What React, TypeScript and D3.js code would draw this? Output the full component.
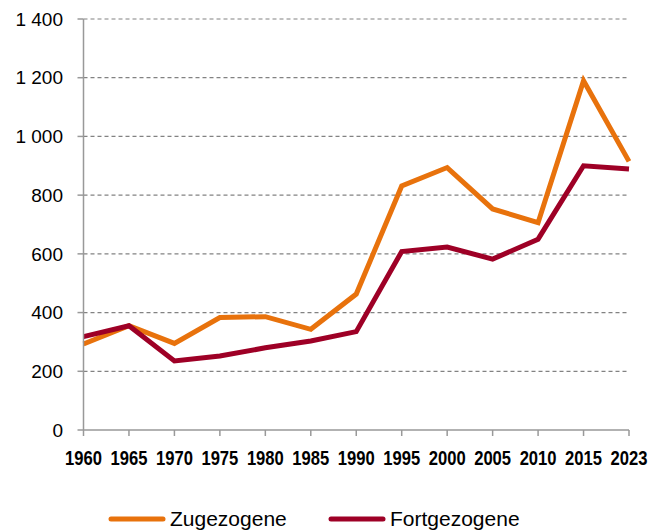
import React from "react";
import * as d3 from "d3";

const years = ["1960","1965","1970","1975","1980","1985","1990","1995","2000","2005","2010","2015","2023"];
const zugezogene = [293, 355, 295, 383, 386, 343, 463, 831, 894, 753, 706, 1190, 915];
const fortgezogene = [318, 355, 235, 252, 280, 303, 335, 608, 623, 582, 650, 900, 889];
const yTicks = [0, 200, 400, 600, 800, 1000, 1200, 1400];
const seriesNames = ["Zugezogene", "Fortgezogene"];
const colors = ["#E8720C", "#9E0026"];

const W = 665, H = 530;
const left = 83.5, right = 629, top = 19, bottom = 430;

export default function App() {
  const x = d3.scalePoint<string>().domain(years).range([left, right]);
  const y = d3.scaleLinear().domain([0, 1400]).range([bottom, top]);
  const line = d3.line<number>().x((_, i) => x(years[i])!).y((d) => y(d));
  const fmt = (v: number) => d3.format(",")(v).replace(",", " ");
  const series = [zugezogene, fortgezogene];
  const legendX = [111, 331];
  const sx = 0.81;
  return (
    <svg width={W} height={H} style={{ position: "absolute", left: 0, top: 0 }}>
      <rect width={W} height={H} fill="#fff" />
      {yTicks.filter((t) => t > 0).map((t) => (
        <line key={t} x1={left} x2={right} y1={y(t)} y2={y(t)} stroke="#828282" strokeWidth={1.2} strokeDasharray="4 3" />
      ))}
      {series.map((s, i) => (
        <path key={i} d={line(s)!} fill="none" stroke={colors[i]} strokeWidth={5} strokeLinejoin="miter" strokeLinecap="butt" />
      ))}
      <line x1={left} x2={left} y1={top} y2={bottom} stroke="#999" strokeWidth={1.5} />
      <line x1={left} x2={right} y1={bottom} y2={bottom} stroke="#999" strokeWidth={1.5} />
      {yTicks.map((t) => (
        <g key={t}>
          <line x1={left - 6} x2={left} y1={y(t)} y2={y(t)} stroke="#999" strokeWidth={1.5} />
          <text x={63} y={y(t)} dy="0.35em" textAnchor="end" fontFamily="Liberation Sans, Arial, sans-serif" fontSize={19} fill="#000">{fmt(t)}</text>
        </g>
      ))}
      {years.map((yr) => (
        <g key={yr}>
          <line x1={x(yr)} x2={x(yr)} y1={bottom} y2={bottom + 6} stroke="#999" strokeWidth={1.5} />
          <text transform={`translate(${x(yr)},464.5) scale(${sx},1)`} textAnchor="middle" fontFamily="Liberation Sans, Arial, sans-serif" fontWeight="bold" fontSize={20.5} fill="#000">{yr}</text>
        </g>
      ))}
      {seriesNames.map((n, i) => (
        <g key={n}>
          <line x1={legendX[i]} x2={legendX[i] + 52} y1={519} y2={519} stroke={colors[i]} strokeWidth={5} strokeLinecap="round" />
          <text x={legendX[i] + 59} y={526} fontFamily="Liberation Sans, Arial, sans-serif" fontSize={21} fill="#000">{n}</text>
        </g>
      ))}
    </svg>
  );
}
